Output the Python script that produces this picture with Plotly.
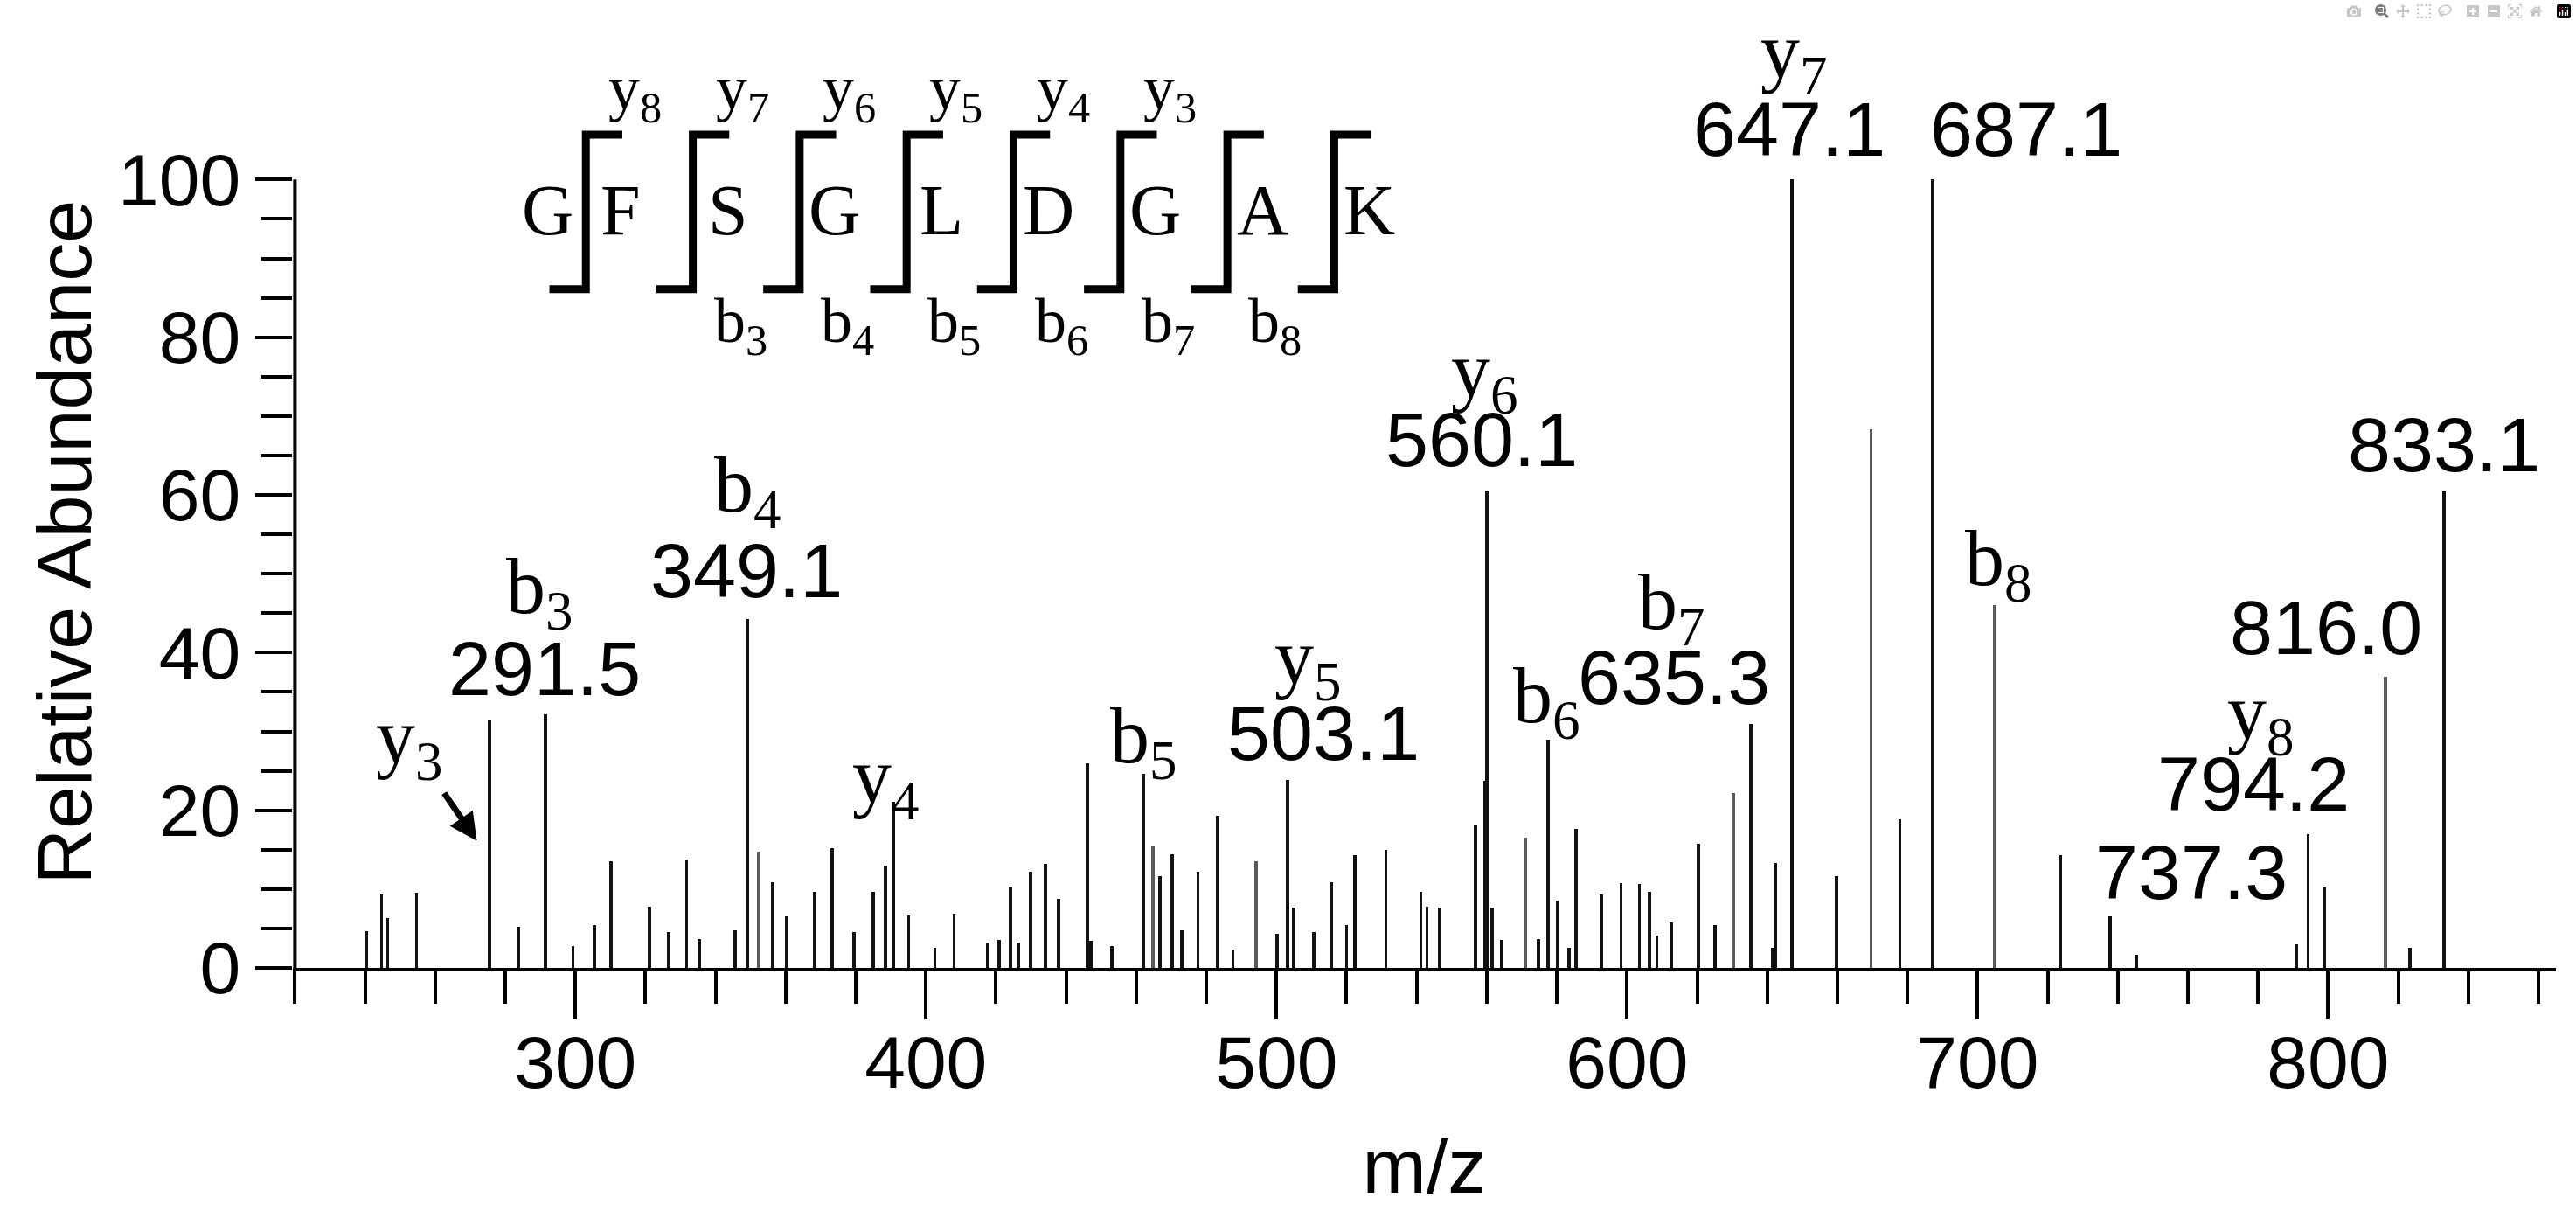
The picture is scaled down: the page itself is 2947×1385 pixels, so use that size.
import plotly.graph_objects as go

# MS/MS spectrum of GFSGLDGAK
mz = [240.5, 244.7, 246.5, 254.7, 275.5, 283.9, 291.4, 299.3, 305.4, 310.1,
      321.2, 326.7, 331.7, 335.3, 345.6, 349.2, 356.2, 360.2, 368.1, 373.3,
      379.5, 384.9, 388.4, 390.7, 395.1, 402.6, 408.0, 417.6, 420.9, 424.2,
      426.3, 429.8, 434.1, 437.8, 446.0, 447.0, 453.0, 462.2, 466.8, 470.3,
      473.0, 477.6, 483.3, 487.6, 500.2, 503.1, 504.9, 510.7, 515.8, 520.0,
      522.3, 531.2, 541.2, 542.9, 546.4, 556.8, 559.5, 560.1, 561.5, 564.2,
      574.7, 577.5, 580.1, 583.4, 585.5, 592.7, 598.3, 603.5, 606.4, 608.5,
      612.6, 620.3, 625.1, 635.3, 641.5, 642.4, 647.1, 659.7, 677.9, 687.1,
      723.7, 737.8, 745.3, 791.0, 794.3, 798.9, 823.4, 833.1]
intensity = [4.7, 9.3, 6.3, 9.5, 31.4, 5.2, 32.2, 2.8, 5.4, 13.5,
             7.8, 4.5, 13.7, 3.7, 4.8, 44.3, 10.9, 6.5, 9.6, 15.2,
             4.5, 9.6, 13.0, 21.1, 6.7, 2.6, 6.9, 3.2, 3.5, 10.2,
             3.2, 12.2, 13.2, 8.8, 25.9, 3.4, 2.8, 24.6, 11.7, 14.4,
             4.8, 12.2, 19.3, 2.3, 4.3, 23.9, 7.6, 4.5, 10.9, 5.4,
             14.3, 15.0, 9.6, 7.8, 7.6, 18.1, 23.7, 60.6, 7.6, 3.5,
             3.7, 29.0, 8.5, 2.6, 17.6, 9.3, 10.8, 10.6, 9.6, 4.1,
             5.8, 15.7, 5.4, 30.9, 2.6, 13.3, 100.0, 11.7, 18.9, 100.0,
             14.3, 6.5, 1.7, 3.0, 17.0, 10.2, 2.6, 60.4]

# weaker (grey) traces in the scan
mz_faint = [352.2, 464.7, 494.2, 571.1, 630.3, 669.6, 704.8, 816.3]
intensity_faint = [14.8, 15.4, 13.5, 16.5, 22.2, 68.3, 46.0, 36.9]

# peak labels: ion name, m/z text, and where each text sits (m/z, abundance)
ion_labels = ["b<sub>3</sub>", "b<sub>4</sub>", "y<sub>4</sub>", "b<sub>5</sub>",
              "y<sub>5</sub>", "y<sub>6</sub>", "b<sub>6</sub>", "b<sub>7</sub>",
              "y<sub>7</sub>", "b<sub>8</sub>", "y<sub>8</sub>"]
ion_x = [289.8, 349.2, 388.6, 462.1, 509.0, 559.4, 577.1, 612.8, 647.7, 706.0, 780.8]
ion_y = [47.6, 60.5, 23.6, 28.7, 38.6, 75.0, 33.8, 45.6, 115.5, 51.2, 31.7]

mz_labels = ["291.5", "349.1", "503.1", "560.1", "635.3", "647.1", "687.1",
             "737.3", "794.2", "816.0", "833.1"]
mz_label_x = [291.3, 348.7, 513.5, 558.6, 613.5, 646.4, 713.8, 760.9, 778.6, 799.5, 833.0]
mz_label_y = [38.0, 50.4, 29.8, 67.0, 36.9, 106.4, 106.4, 12.2, 23.3, 43.2, 66.4]

# y3 is labelled with an arrow
y3_text = (252.7, 28.6)
y3_head = (271.9, 16.1)

# peptide sequence with fragment cleavage marks
sequence = list("GFSGLDGAK")
y_ions_top = ["y<sub>8</sub>", "y<sub>7</sub>", "y<sub>6</sub>", "y<sub>5</sub>",
              "y<sub>4</sub>", "y<sub>3</sub>", "", ""]
b_ions_bottom = ["", "b<sub>3</sub>", "b<sub>4</sub>", "b<sub>5</sub>",
                 "b<sub>6</sub>", "b<sub>7</sub>", "b<sub>8</sub>", ""]

SANS = "Liberation Sans, Arial"
SERIF = "Liberation Serif, Times New Roman"

fig = go.Figure()
fig.add_trace(go.Bar(x=mz, y=intensity, width=0.9, marker=dict(color="#111111", line_width=0)))
fig.add_trace(go.Bar(x=mz_faint, y=intensity_faint, width=0.9, marker=dict(color="#5a5a5a", line_width=0)))

ann = []
for t, x, y in zip(ion_labels, ion_x, ion_y):
    ann.append(dict(x=x, y=y, text=t, showarrow=False, font=dict(family=SERIF, size=90, color="black")))
for t, x, y in zip(mz_labels, mz_label_x, mz_label_y):
    ann.append(dict(x=x, y=y, text=t, showarrow=False, font=dict(family=SANS, size=88, color="black")))
ann.append(dict(x=y3_head[0], y=y3_head[1], ax=y3_text[0], ay=y3_text[1], axref="x", ayref="y",
                text="y<sub>3</sub>", showarrow=True, arrowhead=2, arrowsize=0.9, arrowwidth=7,
                arrowcolor="black", font=dict(family=SERIF, size=90, color="black")))

# sequence diagram
seq_x0, seq_step = 303.0, 30.5
seq_top, seq_bot, seq_mid = 105.7, 86.1, 96.1
arm = 10.4
shapes = []
for i in range(len(sequence) - 1):
    xc = seq_x0 + i * seq_step
    shapes.append(dict(type="path", xref="x", yref="y",
                       path=f"M {xc - arm},{seq_bot} L {xc},{seq_bot} L {xc},{seq_top} L {xc + arm},{seq_top}",
                       line=dict(color="black", width=9)))
    if y_ions_top[i]:
        ann.append(dict(x=xc + 6.0, y=seq_top + 5.3, text=y_ions_top[i], showarrow=False, xanchor="left",
                        font=dict(family=SERIF, size=72, color="black")))
    if b_ions_bottom[i]:
        ann.append(dict(x=xc + 5.5, y=seq_bot - 4.6, text=b_ions_bottom[i], showarrow=False, xanchor="left",
                        font=dict(family=SERIF, size=72, color="black")))
for k, aa in enumerate(sequence):
    xl = seq_x0 - 11 if k == 0 else seq_x0 + seq_step * (k - 1) + 10
    ann.append(dict(x=xl, y=seq_mid, text=aa, showarrow=False,
                    font=dict(family=SERIF, size=82, color="black")))

# y axis line only up to 100, with its title centred on it
shapes.append(dict(type="line", xref="x", yref="y", x0=220, x1=220, y0=0, y1=100,
                   line=dict(color="black", width=4)))
ann.append(dict(xref="paper", yref="y", x=-0.101, y=54, xanchor="center", yanchor="middle",
                text="Relative Abundance", textangle=-90,
                showarrow=False, font=dict(family=SANS, size=88, color="black")))

x_major = [300, 400, 500, 600, 700, 800]
x_minor = [v for v in range(220, 861, 20) if v not in x_major]
y_major = [0, 20, 40, 60, 80, 100]
y_minor = [v for v in range(5, 100, 5) if v not in y_major]

fig.update_layout(
    width=2947, height=1385,
    margin=dict(l=335, r=23, t=25, b=278),
    plot_bgcolor="white", paper_bgcolor="white",
    showlegend=False, bargap=0, barmode="overlay",
    annotations=ann, shapes=shapes,
    xaxis=dict(range=[219.4, 865], automargin=False, showline=True, linecolor="black", linewidth=4,
               ticks="outside", tickvals=x_major, ticklen=54, tickwidth=4, tickcolor="black",
               minor=dict(tickvals=x_minor, ticks="outside", ticklen=37, tickwidth=4, tickcolor="black"),
               showgrid=False, zeroline=False, ticklabelstandoff=-22,
               tickfont=dict(family=SANS, size=84, color="black"),
               title=dict(text="m/z", font=dict(family=SANS, size=88, color="black"), standoff=43)),
    yaxis=dict(range=[0, 120], automargin=False, showline=False,
               ticks="outside", tickvals=y_major, ticklen=42, tickwidth=4, tickcolor="black",
               minor=dict(tickvals=y_minor, ticks="outside", ticklen=35, tickwidth=4, tickcolor="black"),
               showgrid=False, zeroline=False,
               tickfont=dict(family=SANS, size=84, color="black")),
)

fig.write_html("out.html", post_script="document.body.style.margin='0';")
